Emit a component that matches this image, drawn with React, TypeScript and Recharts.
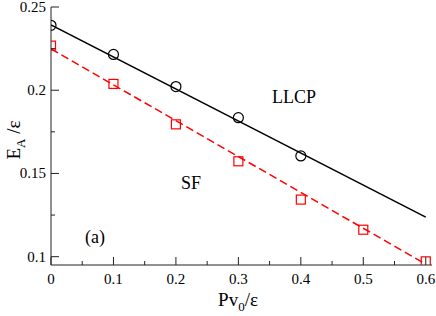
import React from "react";
import {
  ComposedChart,
  Line,
  Scatter,
  XAxis,
  YAxis,
  Customized,
} from "recharts";

// Data
const llcpX = [0, 0.1, 0.2, 0.3, 0.4];
const llcpY = [0.239, 0.2215, 0.2022, 0.1835, 0.1605];
const sfX = [0, 0.1, 0.2, 0.3, 0.4, 0.5, 0.6];
const sfY = [0.2268, 0.2038, 0.1795, 0.1573, 0.1343, 0.1162, 0.0972];
const llcpFitX = [0, 0.6];
const llcpFitY = [0.2392, 0.1238];
const sfFitX = [0, 0.6];
const sfFitY = [0.2248, 0.0955];

const xTicks = [0, 0.05, 0.1, 0.15, 0.2, 0.25, 0.3, 0.35, 0.4, 0.45, 0.5, 0.55, 0.6];
const yTicks = [0.1, 0.125, 0.15, 0.175, 0.2, 0.225, 0.25];
const xMajorLabels = ["0", "0.1", "0.2", "0.3", "0.4", "0.5", "0.6"];
const yMajorLabels = ["0.1", "0.15", "0.2", "0.25"];

const llcpPts = llcpX.map((x, i) => ({ x, y: llcpY[i] }));
const sfPts = sfX.map((x, i) => ({ x, y: sfY[i] }));
const llcpFit = llcpFitX.map((x, i) => ({ x, y: llcpFitY[i] }));
const sfFit = sfFitX.map((x, i) => ({ x, y: sfFitY[i] }));

const FONT = "'Liberation Serif', 'Times New Roman', serif";
const TS = (size: number): React.CSSProperties => ({ fontFamily: FONT, fontSize: size });
const AX = "#222";
const MAJ = 8;
const MIN = 4;

const makeTick = (side: "bottom" | "top" | "left" | "right") => (props: any) => {
  const { x, y, index } = props;
  const major = index % 2 === 0;
  const len = major ? MAJ : MIN;
  let line;
  let label = null;
  if (side === "bottom") {
    line = <line x1={x} y1={y} x2={x} y2={y - len} stroke={AX} />;
    if (major)
      label = (
        <text x={x} y={y + 19} textAnchor="middle" style={TS(15)} fill="#000">
          {xMajorLabels[index / 2]}
        </text>
      );
  } else if (side === "top") {
    line = <line x1={x} y1={y} x2={x} y2={y + len} stroke={AX} />;
  } else if (side === "left") {
    line = <line x1={x} y1={y} x2={x + len} y2={y} stroke={AX} />;
    if (major)
      label = (
        <text x={x - 5} y={y + 5} textAnchor="end" style={TS(15)} fill="#000">
          {yMajorLabels[index / 2]}
        </text>
      );
  } else {
    line = <line x1={x} y1={y} x2={x - len} y2={y} stroke={AX} />;
  }
  return (
    <g>
      {line}
      {label}
    </g>
  );
};

const Circle = (props: any) => {
  const { cx, cy } = props;
  return <circle cx={cx} cy={cy} r={5} fill="none" stroke="#000" strokeWidth={1.2} />;
};
const Square = (props: any) => {
  const { cx, cy } = props;
  return <rect x={cx - 4.5} y={cy - 4.5} width={9} height={9} fill="none" stroke="#ff0000" strokeWidth={1.2} />;
};

const Labels = () => (
  <g fill="#000">
    <text x={238} y={306} textAnchor="middle" style={TS(19)}>
      Pv<tspan style={TS(13)} dy={5}>0</tspan>
      <tspan dy={-5}>/ε</tspan>
    </text>
    <text transform="translate(20,140) rotate(-90)" textAnchor="middle" style={TS(19)}>
      E<tspan style={TS(13)} dy={5}>A</tspan>
      <tspan dy={-5}> /ε</tspan>
    </text>
    <text x={294} y={103} textAnchor="middle" style={TS(18)}>LLCP</text>
    <text x={191} y={189} textAnchor="middle" style={TS(18)}>SF</text>
    <text x={95} y={243} textAnchor="middle" style={TS(18)}>(a)</text>
  </g>
);

export default function App() {
  return (
    <div style={{ position: "absolute", left: 0, top: 0 }}>
      <ComposedChart width={436} height={316} margin={{ top: 7, right: 4, left: 0, bottom: 0 }}>
        <XAxis
          xAxisId="b"
          type="number"
          dataKey="x"
          domain={[0, 0.61]}
          ticks={xTicks}
          interval={0}
          orientation="bottom"
          height={51}
          tickSize={0}
          tickMargin={0}
          tickLine={false}
          axisLine={{ stroke: AX }}
          tick={makeTick("bottom")}
          allowDataOverflow
        />
        <XAxis
          xAxisId="t"
          type="number"
          dataKey="x"
          domain={[0, 0.61]}
          ticks={xTicks}
          interval={0}
          orientation="top"
          height={0}
          tickSize={0}
          tickMargin={0}
          tickLine={false}
          axisLine={{ stroke: AX }}
          tick={makeTick("top")}
          allowDataOverflow
        />
        <YAxis
          yAxisId="l"
          type="number"
          dataKey="y"
          domain={[0.095, 0.25]}
          ticks={yTicks}
          interval={0}
          orientation="left"
          width={51}
          tickSize={0}
          tickMargin={0}
          tickLine={false}
          axisLine={{ stroke: AX }}
          tick={makeTick("left")}
          allowDataOverflow
        />
        <YAxis
          yAxisId="r"
          type="number"
          dataKey="y"
          domain={[0.095, 0.25]}
          ticks={yTicks}
          interval={0}
          orientation="right"
          width={0}
          tickSize={0}
          tickMargin={0}
          tickLine={false}
          axisLine={{ stroke: AX }}
          tick={makeTick("right")}
          allowDataOverflow
        />
        <Line
          xAxisId="b"
          yAxisId="l"
          data={llcpFit}
          dataKey="y"
          type="linear"
          stroke="#000"
          strokeWidth={1.5}
          dot={false}
          isAnimationActive={false}
        />
        <Line
          xAxisId="b"
          yAxisId="l"
          data={sfFit}
          dataKey="y"
          type="linear"
          stroke="#ff0000"
          strokeWidth={1.5}
          strokeDasharray="8 4"
          dot={false}
          isAnimationActive={false}
        />
        <Scatter xAxisId="b" yAxisId="l" data={llcpPts} dataKey="y" shape={<Circle />} isAnimationActive={false} />
        <Scatter xAxisId="b" yAxisId="l" data={sfPts} dataKey="y" shape={<Square />} isAnimationActive={false} />
        <Customized component={Labels} />
      </ComposedChart>
    </div>
  );
}
